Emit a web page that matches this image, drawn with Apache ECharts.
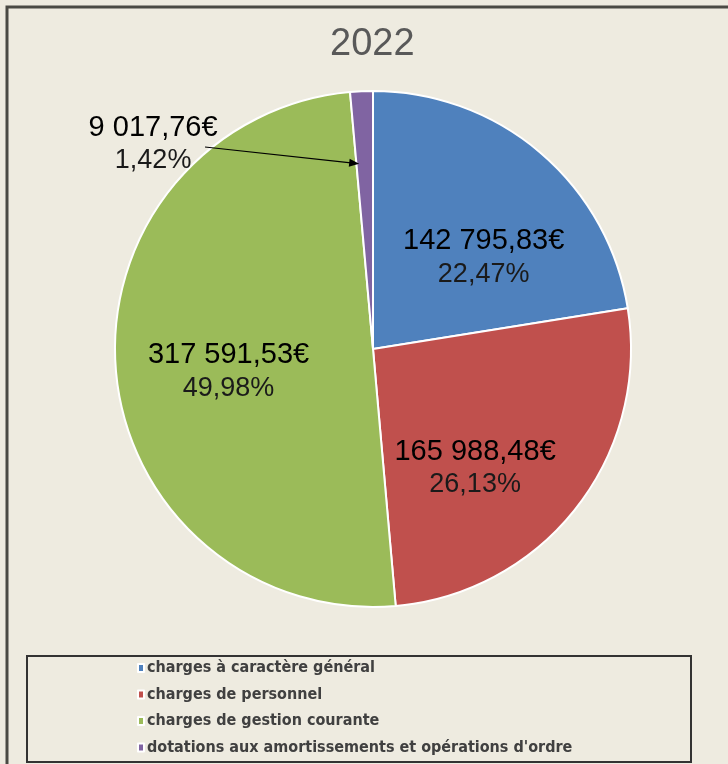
<!DOCTYPE html>
<html>
<head>
<meta charset="utf-8">
<script src="https://cdn.jsdelivr.net/npm/echarts@6/dist/echarts.min.js"></script>
<style>
html,body{margin:0;padding:0;background:#EEEBE0;}
#chart{width:728px;height:764px;}
</style>
</head>
<body>
<div id="chart"></div>
<script>
// ---- data ----
const titleText = '2022';
const categories = [
  'charges à caractère général',
  'charges de personnel',
  'charges de gestion courante',
  "dotations aux amortissements et opérations d'ordre"
];
const values = [142795.83, 165988.48, 317591.53, 9017.76];
const percentLabels = ['22,47%', '26,13%', '49,98%', '1,42%'];
const colors = ['#4F81BD', '#C0504D', '#9BBB59', '#8064A2'];
// label offsets from the default inside position (dx, dy)
const labelOffsets = [[25, 9], [-2, 38], [-13, 11], [-214, -73]];

function fmtEuro(v) {
  const parts = v.toFixed(2).split('.');
  const intPart = parts[0].replace(/\B(?=(\d{3})+(?!\d))/g, ' ');
  return intPart + ',' + parts[1] + '€';
}

const cx = 373, cy = 349, R = 258;

const chart = echarts.init(document.getElementById('chart'), null, {renderer: 'canvas'});

// arrow for the smallest slice, computed from data
const total = values.reduce((a, b) => a + b, 0);
let cum = 0;
for (let i = 0; i < 3; i++) cum += values[i];
const midFrac = (cum + values[3] / 2) / total;
const ang = midFrac * 2 * Math.PI - 0.03;
const tipX = cx + R * 0.72 * Math.sin(ang);
const tipY = cy - R * 0.72 * Math.cos(ang);
const startX = 205, startY = 147;
const dxA = tipX - startX, dyA = tipY - startY;
const len = Math.sqrt(dxA * dxA + dyA * dyA);
const ux = dxA / len, uy = dyA / len;
const ah = 10, aw = 4;
const arrowHead = [
  [tipX, tipY],
  [tipX - ux * ah - uy * aw, tipY - uy * ah + ux * aw],
  [tipX - ux * ah + uy * aw, tipY - uy * ah - ux * aw]
];

const option = {
  backgroundColor: '#EEEBE0',
  animation: false,
  title: {
    text: titleText,
    left: 330,
    top: 26,
    padding: 0,
    textStyle: {fontFamily: 'Liberation Sans', fontSize: 38, fontWeight: 'normal', color: '#595959'}
  },
  legend: {
    orient: 'vertical',
    left: 137,
    top: 660,
    padding: 0,
    itemWidth: 6,
    itemHeight: 8,
    itemGap: 10.5,
    icon: 'rect',
    data: categories,
    textStyle: {fontFamily: 'DejaVu Sans Condensed, Liberation Sans', fontWeight: 'bold', fontSize: 16, color: '#404040', lineHeight: 16, padding: [0, 0, 0, -2]}
  },
  graphic: [
    {type: 'polyline', shape: {points: [[7, 800], [7, 7], [800, 7]]}, style: {fill: 'none', stroke: '#4A4A44', lineWidth: 3}, silent: true},
    {type: 'rect', shape: {x: 27, y: 656, width: 664, height: 106}, style: {fill: 'none', stroke: '#333333', lineWidth: 2}, silent: true},
    {type: 'line', shape: {x1: startX, y1: startY, x2: tipX - ux * 6, y2: tipY - uy * 6}, style: {stroke: '#000', lineWidth: 1.2}, z: 100},
    {type: 'polygon', shape: {points: arrowHead}, style: {fill: '#000'}, z: 100}
  ],
  series: [{
    type: 'pie',
    center: [cx, cy],
    radius: [0, R],
    startAngle: 90,
    clockwise: true,
    avoidLabelOverlap: false,
    itemStyle: {borderColor: '#FFFFFF', borderWidth: 2},
    label: {
      show: true,
      position: 'inside',
      formatter: function (p) {
        return '{a|' + fmtEuro(values[p.dataIndex]) + '}\n{b|' + percentLabels[p.dataIndex] + '}';
      },
      rich: {
        a: {fontFamily: 'Liberation Sans', fontSize: 29, color: '#000', lineHeight: 33, align: 'center'},
        b: {fontFamily: 'Liberation Sans', fontSize: 27, color: '#1a1a1a', lineHeight: 33, align: 'center'}
      }
    },
    labelLine: {show: false},
    labelLayout: function (params) {
      const o = labelOffsets[params.dataIndex];
      return {dx: o[0], dy: o[1]};
    },
    emphasis: {disabled: true},
    data: categories.map((c, i) => ({name: c, value: values[i], itemStyle: {color: colors[i]}}))
  }]
};
chart.setOption(option);
</script>
</body>
</html>
